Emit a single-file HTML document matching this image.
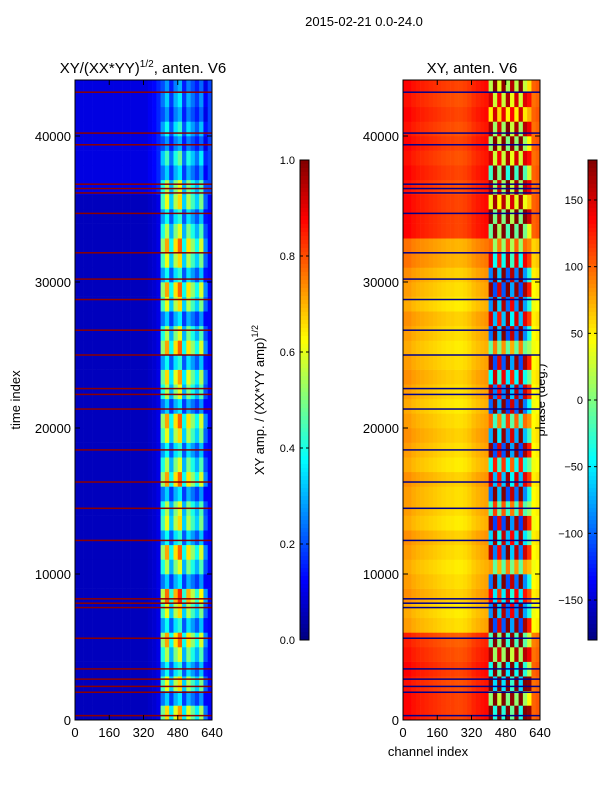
<!DOCTYPE html>
<html><head><meta charset="utf-8"><style>
body{margin:0;background:#fff;}
svg text{font-family:"Liberation Sans","DejaVu Sans",sans-serif;}
</style></head><body>
<svg id="fig" width="600" height="800" viewBox="0 0 600 800" xmlns="http://www.w3.org/2000/svg">
<text x="364" y="26" font-size="13" text-anchor="middle">2015-02-21 0.0-24.0</text>
<text x="143" y="73" font-size="15" text-anchor="middle">XY/(XX*YY)<tspan dy="-6" font-size="10">1/2</tspan><tspan dy="6">, anten. V6</tspan></text>
<text x="472" y="73" font-size="15" text-anchor="middle">XY, anten. V6</text>
<text x="20" y="400" font-size="13" text-anchor="middle" transform="rotate(-90 20 400)">time index</text>
<text x="428" y="756" font-size="13" text-anchor="middle">channel index</text>
<text x="264" y="400" font-size="13" text-anchor="middle" transform="rotate(-90 264 400)">XY amp. / (XX*YY amp)<tspan dy="-6" font-size="9">1/2</tspan></text>
<text x="545" y="400" font-size="13" text-anchor="middle" transform="rotate(-90 545 400)">phase (deg.)</text>
<g id="left"></g><g id="right"></g><g id="cb1"></g><g id="cb2"></g>
</svg>
<script>
// Data
const ampColProfile=[0.06,0.06,0.06,0.06,0.06,0.06,0.06,0.06,0.06,0.06,0.06,0.06,0.06,0.06,0.06,0.06,0.06,0.07,0.08,0.1,0.4,0.55,0.3,0.5,0.6,0.3,0.5,0.4,0.3,0.45,0.2,0.12];
const ampRowFactor=[1.2,0.6,1.1,0.7,1.0,1.3,0.7,1.1,1.4,0.6,1.0,1.3,0.7,1.1,1.0,0.6,1.3,1.0,0.7,1.1,1.3,0.6,1.0,1.2,0.7,1.3,1.0,0.6,1.1,1.3,0.7,1.1,1.3,1.0,0.7,1.1,1.0,0.6,0.8,0.5,0.7,0.5,0.6,0.5];
const phaseColBase=[80,80,75,72,70,68,66,64,62,60,58,58,56,56,58,62,68,72,75,78,40,45,40,40,45,40,40,45,40,45,45,50];
const phaseColDev=[0,0,0,0,0,0,0,0,0,0,0,0,0,0,0,0,0,0,0,0,150,-170,120,-160,170,-130,150,-170,140,90,0,0];
const phaseRowOffset=[55,55,50,55,50,45,0,-5,5,0,-5,0,5,-5,0,0,5,-5,0,5,0,-5,0,5,0,-5,0,5,-5,0,5,15,15,55,55,55,50,55,50,55,50,55,50,55];
const phaseRowVar=[0.8,-0.6,0.9,-0.9,0.5,-0.7,0.9,-0.8,0.6,-0.9,0.3,0.8,-0.7,0.9,-0.4,-0.9,0.7,-0.5,0.9,-0.8,0.4,-0.9,0.8,-0.6,0.9,-0.3,-0.9,0.7,-0.8,0.9,-0.9,0.6,0.3,-0.7,0.6,-0.4,0.5,-0.8,0.4,-0.6,0.5,-0.3,0.4,-0.5];
const flagTimes=[300,1900,2300,2800,3500,5600,7700,8000,8300,12300,14500,16300,18500,21300,22300,22700,25000,26700,28800,30200,32000,34700,36100,36400,36700,39400,40200,43000];
const yTicks=[0,10000,20000,30000,40000];
const xTicks=[0,160,320,480,640];
const ampTicks=[0.0,0.2,0.4,0.6,0.8,1.0];
const phaseTicks=[-150,-100,-50,0,50,100,150];
const T_MAX=43836, C_MAX=640, NBAND=32, TBAND=1000;

const NS="http://www.w3.org/2000/svg";
function jet(v){v=Math.max(0,Math.min(1,v));
 const r=Math.max(0,Math.min(1,1.5-Math.abs(4*v-3))),g=Math.max(0,Math.min(1,1.5-Math.abs(4*v-2))),b=Math.max(0,Math.min(1,1.5-Math.abs(4*v-1)));
 return `rgb(${Math.round(r*255)},${Math.round(g*255)},${Math.round(b*255)})`;}
function mk(tag,attrs,parent){const e=document.createElementNS(NS,tag);for(const k in attrs)e.setAttribute(k,attrs[k]);parent.appendChild(e);return e;}
function panel(gid,x0,flagColor,cellVal){
 const g=document.getElementById(gid);
 const W=137,top=80,bot=720;
 const xs=c=>x0+c/C_MAX*W, ys=t=>bot-t/T_MAX*(bot-top);
 for(let r=0;r*TBAND<T_MAX;r++){
  for(let c=0;c<NBAND;c++){
   const t0=r*TBAND,t1=Math.min(T_MAX,(r+1)*TBAND);
   const rc=mk('rect',{x:xs(c*20),y:ys(t1),width:xs(c*20+20)-xs(c*20)+0.3,height:ys(t0)-ys(t1)+0.3,fill:jet(cellVal(c,r))},g);
   
   
  }
 }
 flagTimes.forEach(t=>{
  const l=mk('rect',{x:x0,y:ys(t)-0.75,width:W,height:1.5,fill:flagColor},g);
  
  
 });
 const fr=mk('rect',{x:x0,y:top,width:W,height:bot-top,fill:'none',stroke:'#000','stroke-width':1},g);
 
 
 yTicks.forEach(t=>{
  mk('line',{x1:x0,x2:x0+5,y1:ys(t),y2:ys(t),stroke:'#000'},g);
  mk('line',{x1:x0+W,x2:x0+W-5,y1:ys(t),y2:ys(t),stroke:'#000'},g);
  const tx=mk('text',{x:x0-4,y:ys(t)+5,'font-size':13,'text-anchor':'end'},g);tx.textContent=t;
  
  
 });
 xTicks.forEach(c=>{
  mk('line',{x1:xs(c),x2:xs(c),y1:bot,y2:bot-5,stroke:'#000'},g);
  mk('line',{x1:xs(c),x2:xs(c),y1:top,y2:top+5,stroke:'#000'},g);
  const tx=mk('text',{x:xs(c),y:bot+17,'font-size':13,'text-anchor':'middle'},g);tx.textContent=c;
  
  
 });
}
panel('left',75,'#8b0000',(c,r)=>c>=20&&c<=30?ampColProfile[c]*ampRowFactor[r]:ampColProfile[c]*(r>=36?1.6:1));
panel('right',403,'#00008b',(c,r)=>(Math.max(-180,Math.min(180,phaseColBase[c]+phaseRowOffset[r]+phaseColDev[c]*phaseRowVar[r]))+180)/360);
function colorbar(gid,x0,vmin,vmax,ticks,fmt){
 const g=document.getElementById(gid);const top=160,bot=640,W=9;
 const ys=v=>bot-(v-vmin)/(vmax-vmin)*(bot-top);
 for(let i=0;i<120;i++){mk('rect',{x:x0,y:top+i*4,width:W,height:4.3,fill:jet(1-(i+0.5)/120)},g);}
 const fr=mk('rect',{x:x0,y:top,width:W,height:bot-top,fill:'none',stroke:'#000'},g);
 
 
 ticks.forEach(v=>{
  mk('line',{x1:x0,x2:x0+3,y1:ys(v),y2:ys(v),stroke:'#000'},g);
  mk('line',{x1:x0+W,x2:x0+W-3,y1:ys(v),y2:ys(v),stroke:'#000'},g);
  const tx=mk('text',{x:x0-5,y:ys(v)+4,'font-size':11,'text-anchor':'end'},g);tx.textContent=fmt(v);
  
  
 });
}
colorbar('cb1',300,0,1,ampTicks,v=>v.toFixed(1));
colorbar('cb2',588,-180,180,phaseTicks,v=>v<0?'\u2212'+(-v):String(v));
</script>
</body></html>
